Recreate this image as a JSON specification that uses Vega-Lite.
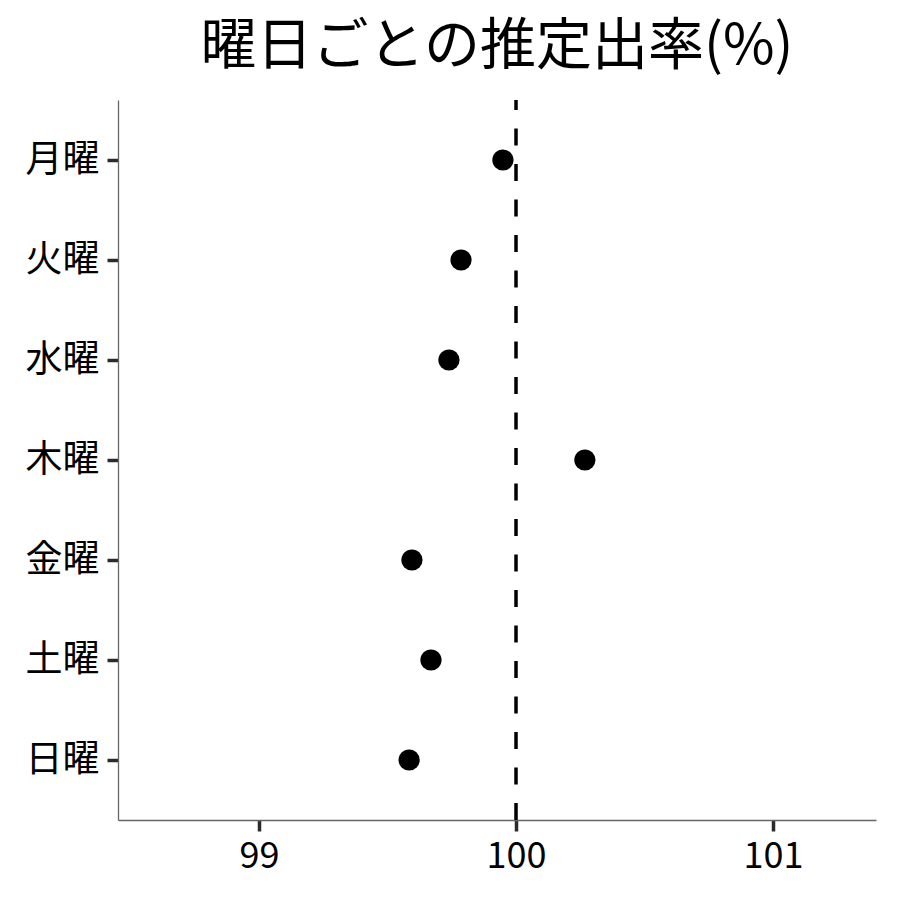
{
  "$schema": "https://vega.github.io/schema/vega-lite/v6.json",
  "autosize": "none",
  "width": 758,
  "height": 720,
  "padding": {"left": 118, "top": 100, "right": 24, "bottom": 80},
  "background": "white",
  "config": {
    "view": {"stroke": null},
    "font": "Noto Sans CJK JP"
  },
  "title": {
    "text": "曜日ごとの推定出率(%)",
    "font": "Noto Sans CJK JP",
    "fontSize": 56,
    "fontWeight": "normal",
    "color": "black",
    "anchor": "middle",
    "offset": 22
  },
  "data": {
    "values": [
      {"day": "月曜", "rate": 99.949},
      {"day": "火曜", "rate": 99.786},
      {"day": "水曜", "rate": 99.739},
      {"day": "木曜", "rate": 100.268},
      {"day": "金曜", "rate": 99.595},
      {"day": "土曜", "rate": 99.669},
      {"day": "日曜", "rate": 99.584}
    ]
  },
  "layer": [
    {
      "data": {"values": [{"ref": 100}]},
      "mark": {"type": "rule", "color": "black", "strokeWidth": 3.5, "strokeDash": [17, 18.5]},
      "encoding": {
        "x": {"field": "ref", "type": "quantitative"},
        "y": {"value": "height"},
        "y2": {"value": 0}
      }
    },
    {
      "mark": {"type": "circle", "size": 450, "color": "black", "opacity": 1},
      "encoding": {
        "x": {
          "field": "rate",
          "type": "quantitative",
          "scale": {"domain": [98.451, 101.401], "nice": false, "zero": false},
          "axis": {
            "title": null,
            "grid": false,
            "values": [99, 100, 101],
            "format": "d",
            "labelFont": "Noto Sans CJK JP",
            "labelFontSize": 36,
            "labelColor": "black",
            "labelPadding": 8,
            "tickSize": 11,
            "tickWidth": 3.5,
            "tickColor": "#2b2b2b",
            "domainColor": "#666666",
            "domainWidth": 1.3
          }
        },
        "y": {
          "field": "day",
          "type": "nominal",
          "sort": null,
          "scale": {"type": "point", "padding": 0.6},
          "axis": {
            "title": null,
            "grid": false,
            "labelFont": "Noto Sans CJK JP",
            "labelFontSize": 37,
            "labelColor": "black",
            "labelPadding": 8,
            "tickSize": 11,
            "tickWidth": 3.5,
            "tickColor": "#2b2b2b",
            "domainColor": "#666666",
            "domainWidth": 1.3
          }
        }
      }
    }
  ]
}
